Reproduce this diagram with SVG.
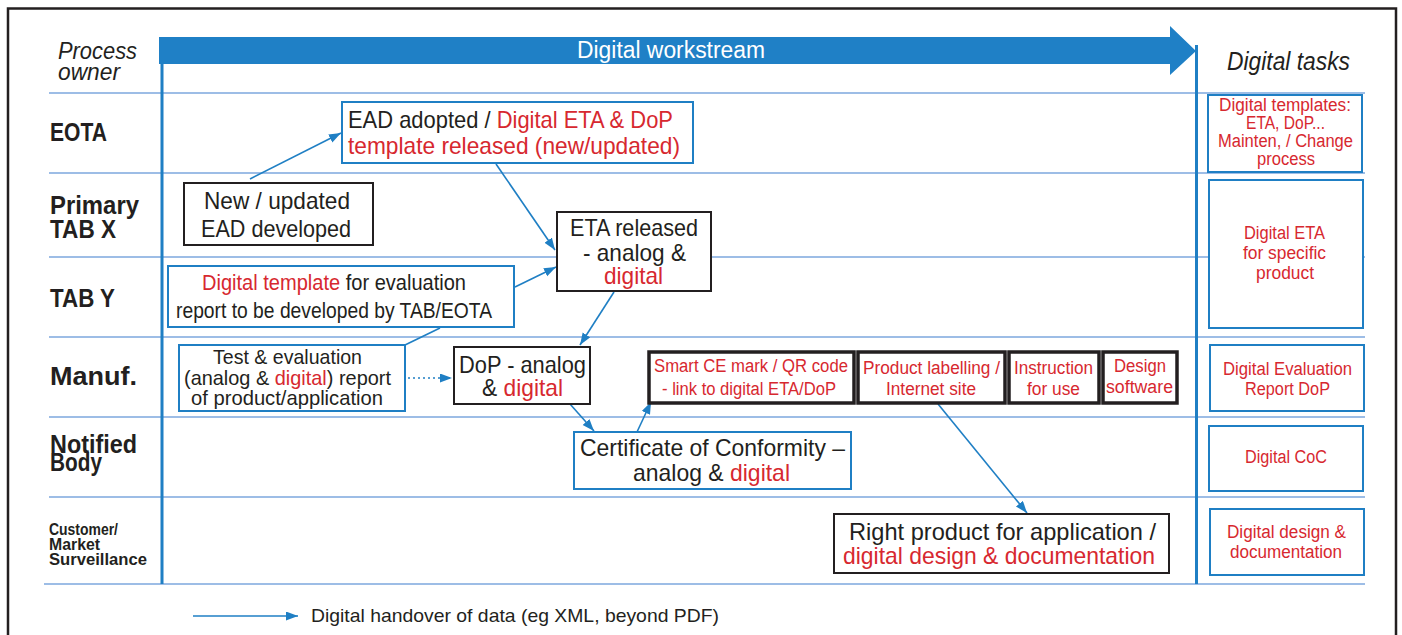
<svg xmlns="http://www.w3.org/2000/svg" width="1402" height="635" viewBox="0 0 1402 635">
<defs>
<marker id="ah" markerUnits="userSpaceOnUse" markerWidth="13" markerHeight="10" refX="12" refY="4.5" orient="auto">
<path d="M0,0 L12,4.5 L0,9 z" fill="#1f7fc4"/>
</marker>
<style>
text{font-family:"Liberation Sans Narrow","Liberation Sans",Arial,sans-serif;fill:#231f20}
.r{fill:#d7282f}
.lbl{font-weight:bold;font-size:26px}
.lbs{font-weight:bold;font-size:16px}
.it{font-style:italic;font-size:24px}
.n24{font-size:24px}
.n22{font-size:22px}
.n21{font-size:21px}
.n18{font-size:18px}
.rt{font-size:18px;fill:#d7282f}
.bb{fill:#fff;stroke:#1f7fc4;stroke-width:2}
.kb{fill:#fff;stroke:#231f20;stroke-width:2}
.tb{fill:#fff;stroke:#231f20;stroke-width:3.5}
.row{stroke:#9dbde6;stroke-width:2}
.cn{stroke:#1f7fc4;stroke-width:1.6;fill:none;marker-end:url(#ah)}
</style>
</defs>
<rect width="1402" height="635" fill="#fff"/>
<rect x="8" y="8.5" width="1388" height="640" fill="none" stroke="#231f20" stroke-width="2.5"/>

<g id="grid">
<line class="row" x1="49" y1="93" x2="1365" y2="93"/>
<line class="row" x1="49" y1="173" x2="1365" y2="173"/>
<line class="row" x1="49" y1="257" x2="1365" y2="257"/>
<line class="row" x1="49" y1="337" x2="1365" y2="337"/>
<line class="row" x1="49" y1="417" x2="1365" y2="417"/>
<line class="row" x1="49" y1="497" x2="1365" y2="497"/>
<line class="row" x1="44" y1="584" x2="1365" y2="584"/>
<line x1="162" y1="60" x2="162" y2="584" stroke="#1f7fc4" stroke-width="3"/>
<line x1="1196.5" y1="45" x2="1196.5" y2="584" stroke="#1f7fc4" stroke-width="3"/>
<polygon points="159,37 1170,37 1170,26 1196,51 1170,75 1170,64 159,64" fill="#1f80c6"/>
<text x="577" y="58" style="font-size:23px;fill:#fff" textLength="188" lengthAdjust="spacingAndGlyphs">Digital workstream</text>
<text class="it" x="58" y="59" textLength="79" lengthAdjust="spacingAndGlyphs">Process</text>
<text class="it" x="58" y="80" textLength="62" lengthAdjust="spacingAndGlyphs">owner</text>
<text class="it" x="1227" y="70" style="font-size:25px" textLength="123" lengthAdjust="spacingAndGlyphs">Digital tasks</text>
</g>

<g id="labels">
<text class="lbl" x="50" y="141" textLength="57" lengthAdjust="spacingAndGlyphs">EOTA</text>
<text class="lbl" x="50" y="214" textLength="89" lengthAdjust="spacingAndGlyphs">Primary</text>
<text class="lbl" x="50" y="238" textLength="66" lengthAdjust="spacingAndGlyphs">TAB X</text>
<text class="lbl" x="50" y="307" textLength="65" lengthAdjust="spacingAndGlyphs">TAB Y</text>
<text class="lbl" x="50" y="385" textLength="87" lengthAdjust="spacingAndGlyphs">Manuf.</text>
<text class="lbl" x="50" y="453" textLength="87" lengthAdjust="spacingAndGlyphs">Notified</text>
<text class="lbl" x="50" y="471" textLength="52" lengthAdjust="spacingAndGlyphs">Body</text>
<text class="lbs" x="49" y="535" textLength="69" lengthAdjust="spacingAndGlyphs">Customer/</text>
<text class="lbs" x="49" y="550" textLength="51" lengthAdjust="spacingAndGlyphs">Market</text>
<text class="lbs" x="49" y="565" textLength="98" lengthAdjust="spacingAndGlyphs">Surveillance</text>
</g>

<g id="connectors">
<line class="cn" x1="250" y1="179" x2="341" y2="133"/>
<line class="cn" x1="496" y1="164" x2="555" y2="250"/>
<line class="cn" x1="515" y1="287" x2="556" y2="267"/>
<line class="cn" x1="614" y1="292" x2="580" y2="345"/>
<line x1="405" y1="345" x2="440" y2="328" stroke="#1f7fc4" stroke-width="1.6"/>
<line class="cn" x1="408" y1="378" x2="452" y2="378" stroke-dasharray="2,3"/>
<line class="cn" x1="570" y1="404" x2="594" y2="431"/>
<line class="cn" x1="637" y1="432" x2="651" y2="402"/>
<line class="cn" x1="938" y1="404" x2="1027" y2="513"/>
</g>

<g id="n-ead">
<rect class="bb" x="342" y="102" width="351" height="61"/>
<text class="n24" x="348" y="128" textLength="325" lengthAdjust="spacingAndGlyphs">EAD adopted / <tspan class="r">Digital ETA &amp; DoP</tspan></text>
<text class="n24 r" x="348" y="154" textLength="332" lengthAdjust="spacingAndGlyphs">template released (new/updated)</text>
</g>
<g id="n-new">
<rect class="kb" x="184" y="183" width="189" height="62"/>
<text class="n24" x="204" y="209" textLength="146" lengthAdjust="spacingAndGlyphs">New / updated</text>
<text class="n24" x="201" y="237" textLength="150" lengthAdjust="spacingAndGlyphs">EAD developed</text>
</g>
<g id="n-eta">
<rect class="kb" x="557" y="212" width="154" height="79"/>
<text class="n24" x="570" y="236" textLength="128" lengthAdjust="spacingAndGlyphs">ETA released</text>
<text class="n24" x="583" y="261" textLength="103" lengthAdjust="spacingAndGlyphs">- analog &amp;</text>
<text class="n24 r" x="604" y="284" textLength="59" lengthAdjust="spacingAndGlyphs">digital</text>
</g>
<g id="n-template">
<rect class="bb" x="168" y="266" width="346" height="61"/>
<text class="n22" x="202" y="290" textLength="264" lengthAdjust="spacingAndGlyphs"><tspan class="r">Digital template</tspan> for evaluation</text>
<text class="n22" x="176" y="318" textLength="316" lengthAdjust="spacingAndGlyphs">report to be developed by TAB/EOTA</text>
</g>
<g id="n-test">
<rect class="bb" x="179" y="345" width="226" height="66"/>
<text class="n21" x="213" y="364" textLength="149" lengthAdjust="spacingAndGlyphs">Test &amp; evaluation</text>
<text class="n21" x="184" y="385" textLength="207" lengthAdjust="spacingAndGlyphs">(analog &amp; <tspan class="r">digital</tspan>) report</text>
<text class="n21" x="191" y="405" textLength="192" lengthAdjust="spacingAndGlyphs">of product/application</text>
</g>
<g id="n-dop">
<rect class="kb" x="454" y="347" width="136" height="57"/>
<text class="n24" x="459" y="373" textLength="127" lengthAdjust="spacingAndGlyphs">DoP - analog</text>
<text class="n24" x="482" y="396" textLength="81" lengthAdjust="spacingAndGlyphs">&amp; <tspan class="r">digital</tspan></text>
</g>
<g id="n-smartce">
<rect class="tb" x="649" y="352" width="205" height="51"/>
<text class="rt" x="654" y="372" textLength="194" lengthAdjust="spacingAndGlyphs">Smart CE mark / QR code</text>
<text class="rt" x="662" y="395" textLength="174" lengthAdjust="spacingAndGlyphs">- link to digital ETA/DoP</text>
</g>
<g id="n-labelling">
<rect class="tb" x="858" y="352" width="147" height="51"/>
<text class="rt" x="863" y="374" textLength="137" lengthAdjust="spacingAndGlyphs">Product labelling /</text>
<text class="rt" x="886" y="395" textLength="90" lengthAdjust="spacingAndGlyphs">Internet site</text>
</g>
<g id="n-instruction">
<rect class="tb" x="1009" y="352" width="90" height="51"/>
<text class="rt" x="1014" y="374" textLength="79" lengthAdjust="spacingAndGlyphs">Instruction</text>
<text class="rt" x="1027" y="395" textLength="53" lengthAdjust="spacingAndGlyphs">for use</text>
</g>
<g id="n-design">
<rect class="tb" x="1103" y="352" width="74" height="51"/>
<text class="rt" x="1114" y="372" textLength="52" lengthAdjust="spacingAndGlyphs">Design</text>
<text class="rt" x="1106" y="393" textLength="67" lengthAdjust="spacingAndGlyphs">software</text>
</g>
<g id="n-coc">
<rect class="bb" x="574" y="432" width="277" height="57"/>
<text class="n24" x="580" y="456" textLength="265" lengthAdjust="spacingAndGlyphs">Certificate of Conformity –</text>
<text class="n24" x="633" y="481" textLength="157" lengthAdjust="spacingAndGlyphs">analog &amp; <tspan class="r">digital</tspan></text>
</g>
<g id="n-right">
<rect class="kb" x="834" y="514" width="335" height="59"/>
<text class="n24" x="849" y="540" textLength="307" lengthAdjust="spacingAndGlyphs">Right product for application /</text>
<text class="n24 r" x="843" y="564" textLength="312" lengthAdjust="spacingAndGlyphs">digital design &amp; documentation</text>
</g>

<g id="t-templates">
<rect class="bb" x="1208" y="95" width="154" height="77"/>
<text class="rt" x="1219" y="111" textLength="132" lengthAdjust="spacingAndGlyphs">Digital templates:</text>
<text class="rt" x="1246" y="129" textLength="79" lengthAdjust="spacingAndGlyphs">ETA, DoP...</text>
<text class="rt" x="1218" y="147" textLength="135" lengthAdjust="spacingAndGlyphs">Mainten, / Change</text>
<text class="rt" x="1257" y="165" textLength="58" lengthAdjust="spacingAndGlyphs">process</text>
</g>
<g id="t-eta">
<rect class="bb" x="1209" y="180" width="154" height="148"/>
<text class="rt" x="1244" y="239" textLength="81" lengthAdjust="spacingAndGlyphs">Digital ETA</text>
<text class="rt" x="1243" y="259" textLength="83" lengthAdjust="spacingAndGlyphs">for specific</text>
<text class="rt" x="1256" y="279" textLength="58" lengthAdjust="spacingAndGlyphs">product</text>
</g>
<g id="t-eval">
<rect class="bb" x="1210" y="345" width="154" height="66"/>
<text class="rt" x="1223" y="375" textLength="129" lengthAdjust="spacingAndGlyphs">Digital Evaluation</text>
<text class="rt" x="1245" y="395" textLength="85" lengthAdjust="spacingAndGlyphs">Report DoP</text>
</g>
<g id="t-coc">
<rect class="bb" x="1209" y="426" width="154" height="65"/>
<text class="rt" x="1245" y="463" textLength="82" lengthAdjust="spacingAndGlyphs">Digital CoC</text>
</g>
<g id="t-design">
<rect class="bb" x="1210" y="509" width="154" height="66"/>
<text class="rt" x="1227" y="538" textLength="119" lengthAdjust="spacingAndGlyphs">Digital design &amp;</text>
<text class="rt" x="1230" y="558" textLength="112" lengthAdjust="spacingAndGlyphs">documentation</text>
</g>

<g id="legend">
<line class="cn" x1="193" y1="616" x2="298" y2="616"/>
<text x="311" y="622" style="font-size:19px" textLength="408" lengthAdjust="spacingAndGlyphs">Digital handover of data (eg XML, beyond PDF)</text>
</g>
</svg>
